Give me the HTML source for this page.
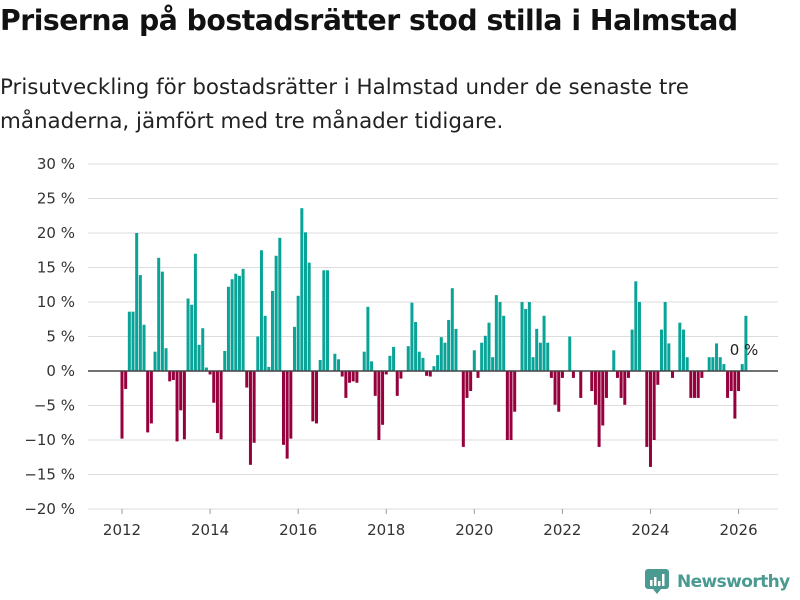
<!DOCTYPE html>
<html><head><meta charset="utf-8"><style>
body{margin:0;width:800px;height:600px;background:#fff;font-family:"Liberation Sans","DejaVu Sans",sans-serif;overflow:hidden;position:relative}
h1{position:absolute;left:0;top:4px;margin:0;font-size:28.3px;font-weight:bold;color:#111;font-family:"DejaVu Sans","Liberation Sans",sans-serif;letter-spacing:-0.5px;white-space:nowrap}
.sub{position:absolute;left:0;top:71px;font-size:21.4px;line-height:34px;color:#222;font-family:"DejaVu Sans","Liberation Sans",sans-serif;width:790px;white-space:nowrap}
</style></head><body>
<h1>Priserna på bostadsrätter stod stilla i Halmstad</h1>
<div class="sub">Prisutveckling för bostadsrätter i Halmstad under de senaste tre<br>månaderna, jämfört med tre månader tidigare.</div>
<svg id="chart" width="800" height="600" style="position:absolute;left:0;top:0" font-family="DejaVu Sans, Liberation Sans, sans-serif"></svg>
<div style="position:absolute;left:645px;top:569px;display:flex;align-items:center">
<svg width="24" height="26" viewBox="0 0 24 26"><rect x="0" y="0" width="24" height="20" rx="3" fill="#4b9a91"/><path d="M8 20 L12 25 L16 20Z" fill="#4b9a91"/><rect x="5" y="11" width="2.5" height="6" fill="#fff"/><rect x="9" y="8" width="2.5" height="9" fill="#fff"/><rect x="13" y="12" width="2.5" height="5" fill="#fff"/><rect x="17" y="5" width="2.5" height="12" fill="#fff"/></svg>
<span style="font-size:17px;font-weight:bold;letter-spacing:-0.6px;color:#4b9a91;margin-left:8px;font-family:'DejaVu Sans','Liberation Sans',sans-serif">Newsworthy</span></div>
<script>
const values=[-9.8,-2.6,8.6,8.6,20,13.9,6.7,-8.9,-7.6,2.8,16.4,14.4,3.3,-1.5,-1.3,-10.2,-5.7,-9.9,10.5,9.6,17,3.8,6.2,0.5,-0.5,-4.6,-9,-9.9,2.9,12.2,13.3,14.1,13.8,14.8,-2.4,-13.6,-10.4,5,17.5,8,0.6,
11.6,16.7,19.3,-10.7,-12.7,-9.8,6.4,10.9,23.6,20.1,15.7,-7.3,-7.6,1.6,14.6,14.6,0,2.5,1.7,-0.8,-3.9,-1.7,-1.5,-1.7,0,2.8,9.3,1.4,-3.6,-10,-7.8,-0.5,2.2,3.5,-3.6,-1.1,0,3.6,9.9,7.1,2.8,1.9,-0.7,
-0.8,0.7,2.3,4.9,4.1,7.4,12,6.1,0,-11,-3.9,-2.9,3,-1,4.1,5.1,7,2,11,10,8,-10,-10,-5.9,0,10,9,10,2,6.1,4.1,8,4.1,-1,-4.9,-5.9,-1,0,5,-1,0,-3.9,0,0,
-2.9,-4.9,-11,-7.9,-3.9,0,3,-1,-3.9,-4.9,-1,6,13,10,0,-11,-13.9,-10,-2,6,10,4,-1,0,7,6,2,-3.9,-3.9,-3.9,-1,0,2,2,4,2,1,-3.9,-2.9,-6.9,-2.9,1,8];
const startYear=2012;
const yTicks=[30,25,20,15,10,5,0,-5,-10,-15,-20];
const xTicks=[2012,2014,2016,2018,2020,2022,2024,2026];
const lastLabel="0 %";
const svg=document.getElementById('chart');const NS='http://www.w3.org/2000/svg';
const y=v=>371-v*6.9;
const xm=i=>122+i*3.67;
const xy=yr=>xm((yr-startYear)*12);
function el(t,a,p){const e=document.createElementNS(NS,t);for(const k in a)e.setAttribute(k,a[k]);(p||svg).appendChild(e);return e;}
yTicks.forEach(t=>{
 const g=el('line',{x1:88,x2:778,y1:y(t),y2:y(t),stroke:'#dddddd','stroke-width':1});
 
 
 const tx=el('text',{x:75,y:y(t)+5,'text-anchor':'end','font-size':15,fill:'#333'});
 tx.textContent=(t<0?'−'+(-t):t)+' %';
 
 
});
xTicks.forEach(t=>{
 const tk=el('line',{x1:xy(t),x2:xy(t),y1:509,y2:514,stroke:'#999'});
 
 
 const tx=el('text',{x:xy(t),y:535,'text-anchor':'middle','font-size':15,fill:'#333'});
 tx.textContent=t;
 
 
});
values.forEach((v,i)=>{
 if(v===0)return;
 const r=el('rect',{x:xm(i)-1.5,width:3,y:Math.min(y(v),y(0)),height:Math.abs(y(v)-y(0)),fill:v>0?'#0aa398':'#96003c'});
 
 
});
const z=el('line',{x1:88,x2:778,y1:y(0),y2:y(0),stroke:'#444','stroke-width':1.5});


const lb=el('text',{x:744,y:355,'text-anchor':'middle','font-size':15,fill:'#222'});
lb.textContent=lastLabel;


</script>
</body></html>
